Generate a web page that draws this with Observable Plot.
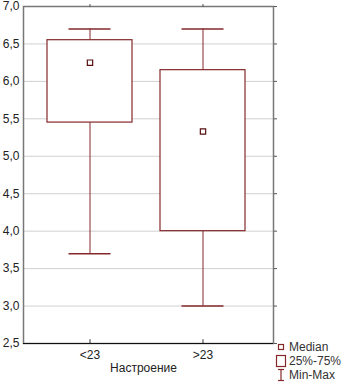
<!DOCTYPE html>
<html>
<head>
<meta charset="utf-8">
<script src="https://cdn.jsdelivr.net/npm/d3@7"></script>
<script src="https://cdn.jsdelivr.net/npm/@observablehq/plot@0.6"></script>
<style>
  html, body { margin: 0; padding: 0; background: #fff; }
  #wrap { position: relative; width: 344px; height: 387px; overflow: hidden; font-family: "Liberation Sans", Arial, sans-serif; }
  #legend { position: absolute; left: 275px; top: 340px; font-size: 12px; color: #333; line-height: 14px; }
  #legend .row { display: flex; align-items: center; height: 14px; }
  #legend svg { display: block; margin-right: 2px; }
</style>
</head>
<body>
<div id="wrap"></div>
<script>
const categories = ["<23", ">23"];
const mins    = [3.7, 3.0];
const q1s     = [5.45, 4.0];
const medians = [6.25, 5.33];
const q3s     = [6.55, 6.15];
const maxs    = [6.7, 6.7];
const yTicks  = [2.5, 3.0, 3.5, 4.0, 4.5, 5.0, 5.5, 6.0, 6.5, 7.0];
const xTitle  = "Настроение";
const legendLabels = ["Median", "25%-75%", "Min-Max"];

const data = categories.map((c, i) => ({
  cat: c, min: mins[i], q1: q1s[i], med: medians[i], q3: q3s[i], max: maxs[i]
}));

const boxColor = "#84282a";
const fmt = v => d3.format(".1f")(v).replace(".", ",");

const chart = Plot.plot({
  width: 344,
  height: 387,
  marginLeft: 23,
  marginRight: 71,
  marginTop: 6,
  marginBottom: 44,
  style: { fontFamily: "'Liberation Sans', Arial, sans-serif", fontSize: "12px", color: "#222", background: "#fff" },
  x: { type: "band", domain: categories, paddingInner: 0.25, paddingOuter: 0.23, align: 0.45, label: null },
  y: { domain: [2.5, 7.0], label: null },
  marks: [
    Plot.gridY(yTicks, { stroke: "#d0d0d0", strokeOpacity: 1 }),
    Plot.ruleX(data, { x: "cat", y1: "min", y2: "q1", stroke: boxColor }),
    Plot.ruleX(data, { x: "cat", y1: "q3", y2: "max", stroke: boxColor }),
    Plot.tickY(data, { x: "cat", y: "min", stroke: boxColor, strokeWidth: 1.5, insetLeft: 21.5, insetRight: 21.5 }),
    Plot.tickY(data, { x: "cat", y: "max", stroke: boxColor, strokeWidth: 1.5, insetLeft: 21.5, insetRight: 21.5 }),
    Plot.barY(data, { x: "cat", y1: "q1", y2: "q3", fill: "#fff", stroke: boxColor, strokeWidth: 1.2 }),
    Plot.dot(data, { x: "cat", y: "med", symbol: "square", r: 3, fill: "#fff", stroke: "#5a1010", strokeWidth: 1.2 }),
    Plot.frame({ stroke: "#777", strokeWidth: 1.5 }),
    Plot.axisY(yTicks, { anchor: "left", tickSize: 0, tickPadding: 4, tickFormat: fmt, fill: "#222" }),
    Plot.axisY(yTicks, { anchor: "right", tickSize: 3, tickFormat: () => "", stroke: "#555" }),
    Plot.axisX({ anchor: "top", tickSize: 3, tickFormat: () => "", stroke: "#555", label: null }),
    Plot.axisX({ anchor: "bottom", tickSize: 0, tickPadding: 7, fill: "#222", label: null }),
    Plot.ruleX(categories, { x: d => d, y1: 2.5, y2: 2.55, stroke: "#333" }),
    Plot.ruleY([2.5], { stroke: "#111", strokeWidth: 1.2 }),
    Plot.text([xTitle], { frameAnchor: "bottom", text: d => d, dy: 28, dx: -5, fill: "#222", fontSize: 12 })
  ]
});

const wrap = document.getElementById("wrap");
wrap.appendChild(chart);

const legend = document.createElement("div");
legend.id = "legend";
const syms = [
  `<svg width="12" height="14"><rect x="3.5" y="4.5" width="5" height="5" fill="#fff" stroke="${boxColor}" stroke-width="1.2"/></svg>`,
  `<svg width="12" height="14"><rect x="1.5" y="1.5" width="9" height="11" fill="#fff" stroke="${boxColor}" stroke-width="1.2"/></svg>`,
  `<svg width="12" height="14"><line x1="3" x2="9" y1="1.5" y2="1.5" stroke="${boxColor}" stroke-width="1.2"/><line x1="6" x2="6" y1="1.5" y2="12.5" stroke="${boxColor}" stroke-width="1.2"/><line x1="3" x2="9" y1="12.5" y2="12.5" stroke="${boxColor}" stroke-width="1.2"/></svg>`
];
legendLabels.forEach((lab, i) => {
  const row = document.createElement("div");
  row.className = "row";
  row.innerHTML = syms[i] + `<span>${lab}</span>`;
  legend.appendChild(row);
});
wrap.appendChild(legend);
</script>
</body>
</html>
